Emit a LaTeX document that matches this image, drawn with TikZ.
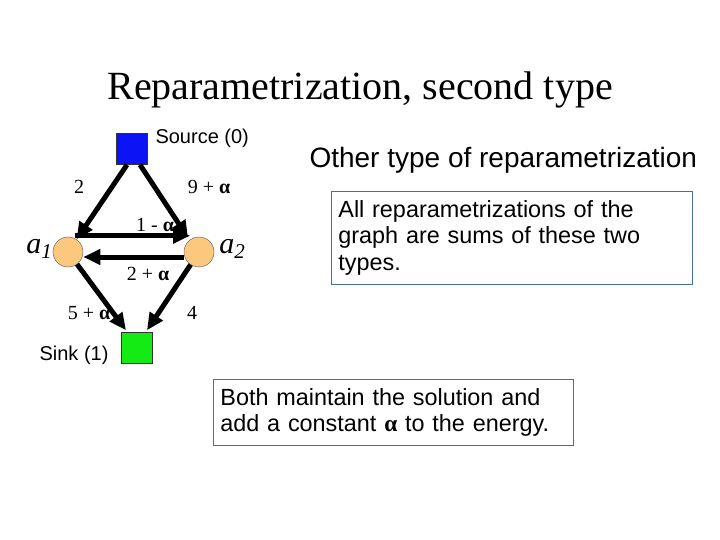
\documentclass[tikz,border=0pt]{standalone}
\usepackage{fontspec}
\setmainfont{Liberation Serif}
\setsansfont{Liberation Sans}
\usepackage{xcolor}
\usetikzlibrary{arrows.meta,positioning}

\definecolor{srcblue}{RGB}{10,20,245}
\definecolor{sinkgreen}{RGB}{20,235,20}
\definecolor{varorange}{RGB}{252,200,125}
\definecolor{boxblue}{RGB}{70,110,160}

\newcommand{\balpha}{{\bfseries α}}

\begin{document}
\begin{tikzpicture}[x=1pt,y=-1pt,
    term/.style={draw=black!80, line width=0.5pt, minimum size=31pt, inner sep=0pt},
    var/.style={circle, draw=black!60, line width=0.5pt, fill=varorange, minimum size=30pt, inner sep=0pt},
    flow/.style={line width=5pt, -{Triangle[length=17pt,width=15pt]}},
    wt/.style={font=\fontsize{20}{22}\selectfont},
    sans/.style={font=\sffamily\fontsize{20}{22}\selectfont},
    note/.style={draw=boxblue, line width=0.8pt, align=left, inner sep=6pt, font=\sffamily\fontsize{23.4}{26.7}\selectfont}
  ]
    \useasboundingbox (0,0) rectangle (720,540);
    \node[font=\fontsize{40}{44}\selectfont] (title) at (360,90) {Reparametrization, second type};

    % graph
    \node[term, fill=srcblue] (src) at (132,149) {};
    \node[term, fill=sinkgreen] (sink) at (137,348) {};
    \node[var] (a1) at (68,252) {};
    \node[var] (a2) at (199,252) {};
    \node[sans, anchor=west] (srclab) at (152,138) {Source (0)};
    \node[sans, anchor=east] (sinklab) at (112,355) {Sink (1)};
    \node[font=\fontsize{30}{32}\selectfont\itshape] (a1lab) at (39,249) {a\raisebox{-0.35ex}{\fontsize{21}{23}\selectfont 1}};
    \node[font=\fontsize{30}{32}\selectfont\itshape] (a2lab) at (232,249) {a\raisebox{-0.35ex}{\fontsize{21}{23}\selectfont 2}};

    \draw[flow] ([xshift=-5pt]src.south) -- (a1);
    \draw[flow] ([xshift=8pt]src.south) -- ([xshift=-11pt,yshift=-1pt]a2.north);
    \draw[flow] ([xshift=7pt,yshift=1pt]a1.north) -- ([xshift=-9pt,yshift=1pt]a2.north);
    \draw[flow] ([yshift=-5pt]a2.west) -- ([yshift=-5pt]a1.east);
    \draw[flow] (a1) -- ([xshift=-11pt,yshift=2pt]sink.north);
    \draw[flow] (a2) -- ([xshift=10pt,yshift=2pt]sink.north);

    \node[wt] (w1) at (79,187) {2};
    \node[wt] (w2) at (209,187) {9 + \balpha};
    \node[wt] (w3) at (155,225) {1 - \balpha};
    \node[wt] (w4) at (148,274) {2 + \balpha};
    \node[wt] (w5) at (89,313) {5 + \balpha};
    \node[wt] (w6) at (192,313) {4};

    % text on the right
    \node[font=\sffamily\fontsize{28}{31}\selectfont, anchor=west] (other) at (306,160) {Other type of reparametrization};
    \node[note, anchor=north west, minimum width=361pt, minimum height=93pt, text width=347pt] (all) at (331,191)
      {All reparametrizations of the\\graph are sums of these two\\types.};
    \node[note, anchor=north west, minimum width=360pt, minimum height=66pt, text width=346pt] (both) at (213,379)
      {Both maintain the solution and\\add a constant {\rmfamily\balpha} to the energy.};
  \end{tikzpicture}
\end{document}
